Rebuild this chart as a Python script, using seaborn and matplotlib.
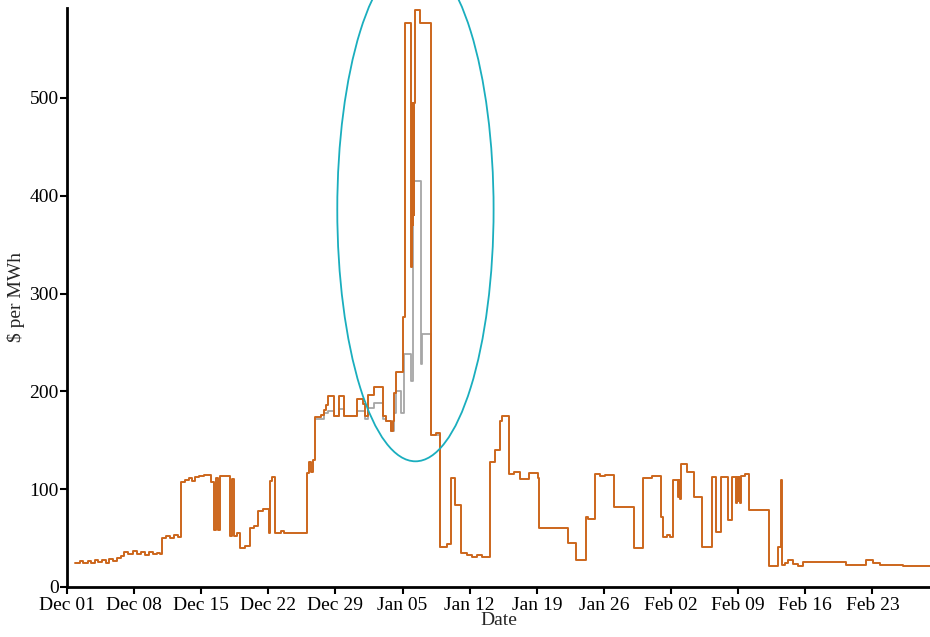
import numpy as np
import pandas as pd
import matplotlib
matplotlib.use("Agg")
import matplotlib.pyplot as plt
import matplotlib.dates as mdates
from matplotlib.patches import Ellipse
import seaborn as sns

# Hourly-cleared price, recorded as step changes: (days since Dec 01, $/MWh)
price_days = [
    0.84, 1.36, 1.68, 2.20, 2.51, 2.93, 3.25, 3.66, 4.08, 4.40, 4.82, 5.24, 5.65, 5.97,
    6.39, 6.91, 7.33, 7.75, 8.17, 8.59, 9.01, 9.42, 9.74,
    9.95, 10.37, 10.79, 11.20, 11.62, 11.94, 12.36, 12.77, 13.09, 13.40, 13.82, 14.24,
    14.66, 14.97, 15.29, 15.50, 15.71, 15.92, 16.96, 17.17, 17.38, 17.70, 18.01, 18.53,
    19.06, 19.48, 19.90, 20.42, 21.05, 21.15, 21.36, 21.68, 22.30, 22.62, 25.03, 25.24,
    25.45, 25.65,
    25.86, 26.49, 26.81, 27.02, 27.23, 27.85, 28.38, 28.90, 30.26, 30.89, 31.10, 31.41,
    32.04, 32.98, 33.30, 33.82, 34.03, 34.14, 34.35, 35.08, 35.29, 35.92, 36.02, 36.07,
    36.13, 36.18, 36.23, 36.34, 36.86, 38.01, 38.53, 38.90, 39.58, 40.10, 40.42, 41.05,
    41.68, 42.20, 42.72, 43.25, 44.08, 44.61, 45.13, 45.34, 46.07, 46.60, 47.23, 48.17,
    49.11, 49.21, 52.25, 53.09, 54.14, 54.35, 55.08, 55.60, 56.13, 57.07, 59.16, 60.10,
    61.05, 61.99, 62.20, 62.62, 62.93, 63.25, 63.77, 63.87, 63.98, 64.08, 64.71, 65.34,
    66.18, 67.23, 67.64, 68.17, 68.90, 69.32, 69.74, 69.84, 69.95, 70.05, 70.16, 70.26,
    70.68, 71.10, 73.19, 74.14, 74.45, 74.55, 74.87, 75.18, 75.71, 76.23, 76.75, 81.26,
    82.20, 83.35, 84.08, 84.82, 87.23, 88.59, 90.10,
]
price_vals = [
    25, 27, 25, 27, 25, 28, 26, 28, 25, 29, 27, 30, 32, 36,
    34, 37, 34, 36, 33, 36, 34, 35, 34,
    50, 52, 50, 53, 51, 107, 109, 111, 108, 112, 113, 115,
    114, 107, 58, 111, 58, 113, 52, 110, 52, 55, 40, 42,
    60, 62, 78, 80, 55, 108, 112, 55, 57, 55, 117, 128,
    118, 130,
    174, 176, 181, 186, 195, 175, 195, 175, 192, 187, 175, 196,
    204, 175, 170, 160, 170, 198, 220, 276, 577, 327, 495, 370,
    490, 380, 495, 590, 577, 155, 157, 41, 44, 111, 84, 35,
    33, 31, 33, 31, 128, 140, 170, 175, 116, 118, 110, 117,
    111, 60, 45, 27.5, 72, 70, 116, 113, 115, 82, 40, 111.5,
    113, 72, 51, 53, 51, 109, 92, 109, 90, 126, 118, 92,
    41, 112.6, 56, 112, 68, 112, 86, 112, 88, 112, 86, 113,
    116, 78.6, 21, 41, 109, 22, 25, 27.5, 24, 21, 25.8, 22.5,
    22, 28, 25, 22.5, 21, 21.5, 21.5,
]

# Second price series where it departs from the first (late Dec - Jan 09)
alt_days = [
    25.86, 26.81, 27.23, 27.85, 28.38, 28.90, 30.26, 31.10, 31.41, 32.04, 32.98, 33.30,
    33.82, 34.14, 34.35, 34.87, 35.19, 35.92, 36.13, 36.97, 37.07, 38.01, 38.90,
]
alt_vals = [
    172, 178, 180, 175, 182, 175, 180, 172, 183, 188, 172, 170,
    160, 178, 200, 178, 238, 211, 415, 228, 259, 155, 41,
]

yticks = [0, 100, 200, 300, 400, 500]
start = pd.Timestamp("2017-12-01")

price = pd.DataFrame({
    "Date": start + pd.to_timedelta(price_days, unit="D"),
    "Price": price_vals,
})
alt = pd.DataFrame({
    "Date": start + pd.to_timedelta(alt_days, unit="D"),
    "Price": alt_vals,
})

sns.set_theme(style="ticks")
plt.rcParams["font.family"] = ["Liberation Serif", "DejaVu Serif"]

fig = plt.figure(figsize=(9.30, 6.37), dpi=100)
ax = fig.add_axes([0.072, 0.0785, 0.928, 0.909])

sns.lineplot(data=alt, x="Date", y="Price", ax=ax, color="#a6a6a6",
             linewidth=1.3, drawstyle="steps-post", estimator=None, sort=False)
sns.lineplot(data=price, x="Date", y="Price", ax=ax, color="#cc661c",
             linewidth=1.4, drawstyle="steps-post", estimator=None, sort=False)

# Highlight of the early-January spike
cx = mdates.date2num(start + pd.Timedelta(days=36.34))
ax.add_patch(Ellipse((cx, 386), width=16.3, height=515, fill=False,
                     edgecolor="#1aaebe", linewidth=1.3, clip_on=False, zorder=5))

ax.set_xlim(start, pd.Timestamp("2018-03-01"))
ax.set_ylim(0, 592)
ax.set_yticks(yticks)
ticks = pd.date_range("2017-12-01", "2018-02-23", freq="7D")
ax.set_xticks(ticks)
ax.xaxis.set_major_formatter(mdates.DateFormatter("%b %d"))

ax.set_xlabel("Date", fontsize=14, labelpad=-2)
ax.set_ylabel(r"\$ per MWh", fontsize=14, labelpad=3)
ax.tick_params(axis="both", labelsize=14, length=5, width=1.5, color="black",
               labelcolor="black")
ax.tick_params(axis="x", pad=2.5)
ax.tick_params(axis="y", pad=1)
sns.despine(ax=ax)
for s in ("left", "bottom"):
    ax.spines[s].set_linewidth(2)
    ax.spines[s].set_color("black")

fig.savefig("out.png", dpi=100)
